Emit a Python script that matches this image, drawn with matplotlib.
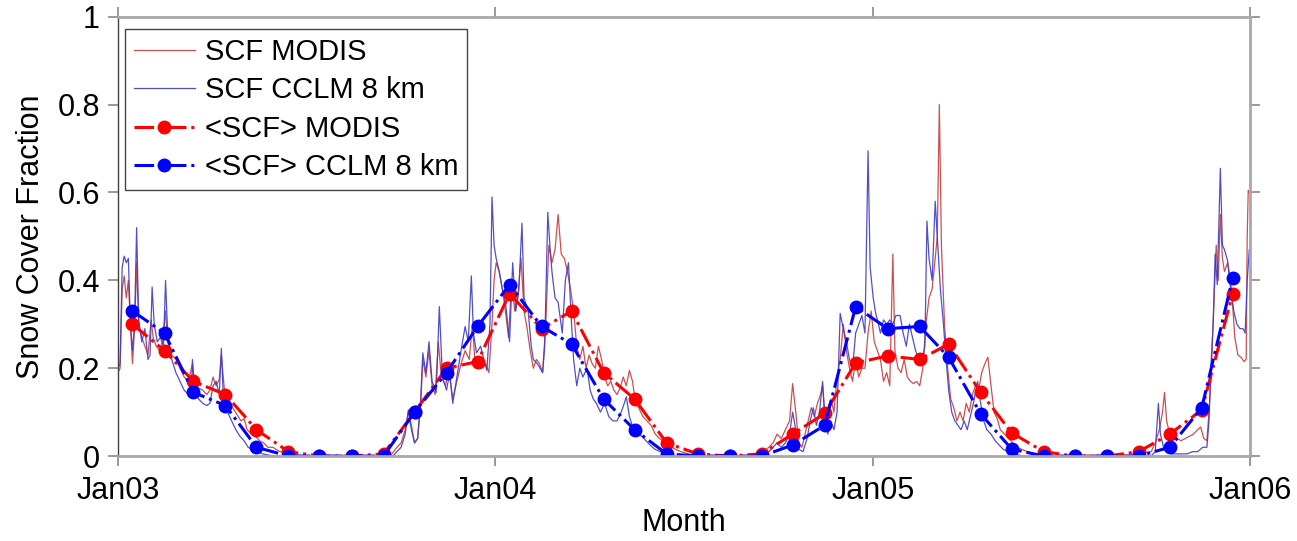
import numpy as np
import matplotlib
matplotlib.use("Agg")
import matplotlib.pyplot as plt
import matplotlib.dates as mdates
from datetime import date, timedelta

plt.rcParams['font.family'] = ['Liberation Sans', 'DejaVu Sans']

START = date(2003, 1, 1)

# daily SCF as (day since 2003-01-01, value) knots
modis_days = [0, 2, 4, 6, 8, 10, 12, 14, 16, 18, 20, 23, 26, 29, 32, 34, 37, 40, 43, 46, 48, 52, 56, 60,
              64, 68, 72, 74, 78, 82, 86, 89, 92, 95, 98, 100, 103, 107, 111, 115, 119, 122, 125, 129,
              133, 137, 141, 145, 150, 155, 160, 168, 180, 200, 240, 262,
              265, 270, 274, 278, 281, 284, 287, 290, 293, 295, 298, 301, 304, 307, 310, 313, 317, 320,
              324, 328, 332, 336, 340, 343, 346, 349, 353, 356, 359, 362, 364, 366, 369, 372, 375, 378,
              381, 384, 387, 390, 393, 396, 399, 402, 405, 408, 411, 414, 417, 420, 423, 426, 429, 432,
              435, 438, 441, 444, 447, 450, 453, 456, 459, 462, 465, 468, 471, 474, 477, 480, 483, 486,
              489, 492, 495, 498, 501, 504, 508, 512, 516, 520, 524, 528, 532, 536, 540, 545, 552, 560,
              580, 600, 620,
              625, 630, 634, 638, 642, 646, 650, 653, 656, 659, 662, 665, 668, 671, 674, 677, 680, 682,
              684, 687, 690, 693, 696, 699, 702, 705, 708, 711, 714, 717, 720, 723, 726, 729, 732, 735,
              738, 741, 744, 747, 750, 752, 755, 758, 761, 764, 767, 770, 773, 776, 779, 782, 785, 788,
              791, 793, 795, 797, 800, 803, 806, 809, 812, 815, 818, 821, 824, 827, 830, 833, 836, 839,
              842, 845, 848, 851, 854, 858, 862, 866, 870, 875, 880, 888, 900, 950, 990,
              995, 1000, 1004, 1008, 1011, 1013, 1015, 1018, 1021, 1025, 1029, 1033, 1037, 1041, 1045,
              1048, 1051, 1054, 1056, 1058, 1060, 1063, 1065, 1067, 1069, 1071, 1074, 1077, 1079, 1081,
              1084, 1087, 1090, 1092, 1093, 1094, 1095]
modis_vals = [0.19, 0.20, 0.38, 0.41, 0.36, 0.40, 0.30, 0.21, 0.29, 0.44, 0.30, 0.27, 0.25, 0.23, 0.31,
              0.27, 0.25, 0.24, 0.26, 0.33, 0.26, 0.23, 0.22, 0.20, 0.18, 0.17, 0.21, 0.17, 0.155, 0.15,
              0.14, 0.15, 0.18, 0.16, 0.175, 0.23, 0.15, 0.13, 0.11, 0.095, 0.08, 0.085, 0.06, 0.05,
              0.045, 0.035, 0.03, 0.02, 0.02, 0.012, 0.008, 0.004, 0.0, 0.0, 0.0, 0.0,
              0.005, 0.02, 0.03, 0.06, 0.10, 0.07, 0.03, 0.04, 0.12, 0.22, 0.18, 0.24, 0.16, 0.14, 0.26,
              0.18, 0.16, 0.20, 0.13, 0.17, 0.21, 0.24, 0.22, 0.30, 0.20, 0.22, 0.20, 0.21, 0.19, 0.30,
              0.40, 0.44, 0.42, 0.38, 0.33, 0.27, 0.40, 0.33, 0.36, 0.45, 0.33, 0.29, 0.24, 0.20, 0.22,
              0.21, 0.19, 0.30, 0.48, 0.44, 0.47, 0.55, 0.46, 0.45, 0.42, 0.38, 0.33, 0.25, 0.22, 0.25,
              0.20, 0.23, 0.21, 0.20, 0.25, 0.22, 0.18, 0.16, 0.17, 0.15, 0.14, 0.155, 0.18, 0.16, 0.195,
              0.17, 0.12, 0.11, 0.09, 0.08, 0.07, 0.05, 0.04, 0.035, 0.025, 0.02, 0.015, 0.01, 0.005,
              0.0, 0.0, 0.0, 0.002,
              0.01, 0.02, 0.03, 0.05, 0.04, 0.06, 0.08, 0.165, 0.10, 0.03, 0.02, 0.05, 0.08, 0.11, 0.09,
              0.12, 0.14, 0.16, 0.10, 0.08, 0.13, 0.10, 0.18, 0.22, 0.30, 0.24, 0.20, 0.17, 0.22, 0.18,
              0.20, 0.20, 0.28, 0.33, 0.26, 0.24, 0.22, 0.17, 0.19, 0.16, 0.46, 0.24, 0.20, 0.19, 0.22,
              0.18, 0.17, 0.165, 0.17, 0.16, 0.20, 0.30, 0.36, 0.38, 0.45, 0.50, 0.80, 0.48, 0.30, 0.20,
              0.13, 0.11, 0.08, 0.10, 0.08, 0.12, 0.10, 0.14, 0.16, 0.15, 0.19, 0.21, 0.225, 0.16, 0.10,
              0.085, 0.06, 0.05, 0.04, 0.03, 0.02, 0.015, 0.01, 0.005, 0.0, 0.0, 0.003,
              0.008, 0.01, 0.03, 0.06, 0.10, 0.145, 0.08, 0.05, 0.045, 0.04, 0.035, 0.04, 0.045, 0.05,
              0.06, 0.066, 0.04, 0.035, 0.10, 0.18, 0.30, 0.48, 0.40, 0.55, 0.45, 0.42, 0.44, 0.40, 0.34,
              0.27, 0.23, 0.225, 0.215, 0.22, 0.50, 0.605, 0.60]

cclm_days = [0, 2, 4, 6, 8, 10, 12, 14, 16, 18, 20, 23, 26, 29, 31, 33, 35, 38, 41, 44, 46, 48, 52, 56,
             60, 64, 68, 71, 72, 74, 78, 82, 86, 89, 92, 95, 98, 100, 102, 106, 110, 114, 118, 122, 126,
             130, 135, 140, 150, 200, 240, 262,
             266, 270, 274, 278, 281, 284, 287, 290, 293, 295, 298, 301, 304, 308, 311, 314, 318, 321,
             324, 328, 332, 336, 339, 342, 344, 347, 351, 354, 357, 360, 362, 364, 366, 369, 372, 375,
             379, 382, 385, 388, 391, 393, 397, 400, 402, 406, 411, 413, 416, 418, 420, 423, 426, 430,
             433, 436, 439, 441, 444, 447, 450, 454, 457, 460, 463, 467, 471, 475, 479, 483, 487, 490,
             492, 495, 499, 503, 507, 511, 515, 520, 525, 530, 540, 580, 600, 620,
             625, 630, 634, 638, 642, 646, 650, 653, 656, 659, 663, 667, 670, 673, 676, 679, 682, 684,
             687, 690, 693, 696, 699, 702, 705, 708, 711, 714, 717, 720, 723, 726, 728, 731, 733, 736,
             738, 741, 744, 747, 750, 753, 757, 760, 763, 766, 769, 772, 775, 778, 781, 783, 785, 788,
             791, 793, 796, 799, 801, 804, 807, 810, 813, 816, 819, 822, 825, 828, 832, 835, 838, 841,
             845, 849, 853, 857, 862, 868, 875, 950, 990,
             1000, 1004, 1007, 1009, 1012, 1016, 1020, 1025, 1030, 1035, 1040, 1045, 1050, 1054, 1056,
             1058, 1060, 1062, 1064, 1067, 1069, 1071, 1074, 1077, 1080, 1083, 1086, 1089, 1091, 1093,
             1095]
cclm_vals = [0.20, 0.21, 0.43, 0.455, 0.44, 0.45, 0.30, 0.24, 0.30, 0.52, 0.31, 0.26, 0.29, 0.22, 0.23,
             0.385, 0.30, 0.26, 0.27, 0.25, 0.40, 0.28, 0.22, 0.19, 0.17, 0.15, 0.14, 0.15, 0.22, 0.15,
             0.13, 0.12, 0.115, 0.12, 0.16, 0.17, 0.14, 0.245, 0.13, 0.10, 0.08, 0.06, 0.045, 0.035,
             0.02, 0.015, 0.01, 0.005, 0.0, 0.0, 0.0, 0.0,
             0.0, 0.01, 0.02, 0.05, 0.105, 0.06, 0.03, 0.04, 0.13, 0.235, 0.19, 0.26, 0.17, 0.145, 0.34,
             0.18, 0.15, 0.19, 0.12, 0.18, 0.24, 0.295, 0.26, 0.41, 0.28, 0.235, 0.25, 0.22, 0.195, 0.30,
             0.59, 0.48, 0.45, 0.42, 0.38, 0.35, 0.26, 0.44, 0.33, 0.38, 0.53, 0.36, 0.33, 0.25, 0.22,
             0.21, 0.19, 0.25, 0.555, 0.48, 0.42, 0.36, 0.35, 0.28, 0.40, 0.44, 0.30, 0.22, 0.16, 0.20,
             0.18, 0.20, 0.15, 0.13, 0.12, 0.10, 0.12, 0.09, 0.08, 0.08, 0.10, 0.12, 0.135, 0.09, 0.06,
             0.05, 0.045, 0.035, 0.025, 0.015, 0.01, 0.005, 0.0, 0.0, 0.0, 0.0,
             0.005, 0.01, 0.02, 0.03, 0.02, 0.03, 0.05, 0.10, 0.06, 0.015, 0.01, 0.04, 0.08, 0.11, 0.07,
             0.10, 0.17, 0.09, 0.05, 0.08, 0.06, 0.10, 0.325, 0.29, 0.26, 0.22, 0.20, 0.28, 0.30, 0.32,
             0.28, 0.695, 0.43, 0.36, 0.33, 0.30, 0.28, 0.31, 0.30, 0.31, 0.30, 0.32, 0.32, 0.28, 0.25,
             0.30, 0.27, 0.24, 0.22, 0.21, 0.25, 0.535, 0.45, 0.40, 0.58, 0.50, 0.38, 0.30, 0.235, 0.15,
             0.10, 0.08, 0.07, 0.06, 0.08, 0.06, 0.09, 0.12, 0.17, 0.12, 0.08, 0.06, 0.05, 0.035, 0.025,
             0.015, 0.01, 0.005, 0.0, 0.0, 0.0,
             0.0, 0.01, 0.12, 0.05, 0.02, 0.01, 0.005, 0.005, 0.005, 0.005, 0.01, 0.01, 0.02, 0.02, 0.08,
             0.21, 0.30, 0.46, 0.39, 0.655, 0.48, 0.47, 0.445, 0.38, 0.33, 0.30, 0.29, 0.29, 0.28, 0.40,
             0.47]

# monthly means Jan03 .. Dec05
modis_monthly = [0.30, 0.24, 0.17, 0.14, 0.06, 0.01, 0.0, 0.0, 0.005, 0.10, 0.20, 0.215,
                 0.37, 0.29, 0.33, 0.19, 0.13, 0.03, 0.005, 0.0, 0.005, 0.05, 0.097, 0.212,
                 0.228, 0.22, 0.255, 0.145, 0.053, 0.01, 0.0, 0.0, 0.01, 0.05, 0.105, 0.37]
cclm_monthly = [0.33, 0.28, 0.145, 0.115, 0.02, 0.0, 0.0, 0.0, 0.0, 0.10, 0.19, 0.295,
                0.39, 0.295, 0.255, 0.13, 0.06, 0.005, 0.0, 0.0, 0.0, 0.025, 0.07, 0.34,
                0.29, 0.295, 0.225, 0.096, 0.016, 0.0, 0.0, 0.0, 0.0, 0.02, 0.11, 0.405]

year_ticks = [date(2003, 1, 1), date(2004, 1, 1), date(2005, 1, 1), date(2006, 1, 1)]
y_ticks = [0, 0.2, 0.4, 0.6, 0.8, 1]
y_labels = ['0', '0.2', '0.4', '0.6', '0.8', '1']

modis_dates = [START + timedelta(days=d) for d in modis_days]
cclm_dates = [START + timedelta(days=d) for d in cclm_days]
month_dates = [date(2003 + i // 12, i % 12 + 1, 15) for i in range(36)]

fig = plt.figure(figsize=(12.97, 5.41), dpi=100)
ax = fig.add_axes([0.091, 0.157, 0.873, 0.812])

ax.plot(modis_dates, modis_vals, color='#c83c3c', lw=0.9, alpha=0.9, label='SCF MODIS')
ax.plot(cclm_dates, cclm_vals, color='#3c3cc8', lw=0.9, alpha=0.9, label='SCF CCLM 8 km')
ax.plot(month_dates, modis_monthly, color='red', ls='-.', lw=2.2, marker='o', ms=9,
        label='<SCF> MODIS')
ax.plot(month_dates, cclm_monthly, color='blue', ls='-.', lw=2.2, marker='o', ms=9,
        label='<SCF> CCLM 8 km')

ax.set_xlim(date(2003, 1, 1), date(2006, 1, 1))
ax.set_ylim(0, 1)
ax.set_xticks(year_ticks)
ax.xaxis.set_major_formatter(mdates.DateFormatter('%b%y'))
ax.set_yticks(y_ticks)
ax.set_yticklabels(y_labels)

ax.tick_params(direction='out', length=7, width=1.2, color='#888888', labelsize=22,
               top=True, right=True, labeltop=False, labelright=False)
ax.tick_params(axis='x', pad=7)
ax.tick_params(axis='y', pad=6)
for side in ['top', 'right', 'bottom']:
    ax.spines[side].set_color('#a8a8a8')
    ax.spines[side].set_linewidth(2)
ax.spines['left'].set_color('#404040')
ax.spines['left'].set_linewidth(1)

ax.set_xlabel('Month', fontsize=22, labelpad=2)
ax.set_ylabel('Snow Cover Fraction', fontsize=22, labelpad=8)

leg = ax.legend(loc='upper left', bbox_to_anchor=(0.006, 0.972), borderaxespad=0, fontsize=21,
                handlelength=2.1, handletextpad=0.35, labelspacing=0.36, borderpad=0.3,
                fancybox=False, framealpha=1)
leg.get_frame().set_edgecolor('#444444')
leg.get_frame().set_linewidth(1)

fig.savefig('out.png', dpi=100)
